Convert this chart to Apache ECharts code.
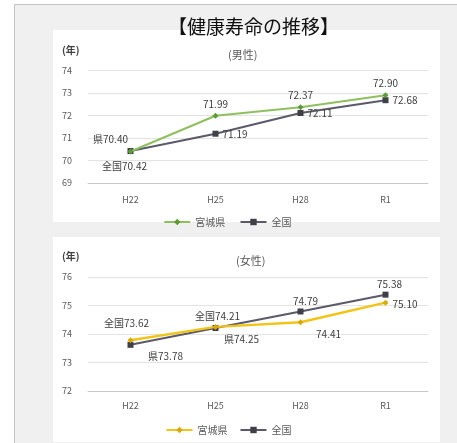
<!DOCTYPE html>
<html><head><meta charset="utf-8">
<script src="https://cdn.jsdelivr.net/npm/echarts@6/dist/echarts.min.js"></script>
<style>html,body{margin:0;padding:0;background:#fff}#c{width:457px;height:443px}</style>
</head><body><div id="c"></div>
<script>
var categories = ['H22', 'H25', 'H28', 'R1'];
var seriesNames = ['宮城県', '全国'];
var maleMiyagi = [70.40, 71.99, 72.37, 72.90];
var maleNational = [70.42, 71.19, 72.11, 72.68];
var femaleMiyagi = [73.78, 74.25, 74.41, 75.10];
var femaleNational = [73.62, 74.21, 74.79, 75.38];
var malePrefixMiyagi = ['県', '', '', ''];
var malePrefixNational = ['全国', '', '', ''];
var femalePrefixMiyagi = ['県', '県', '', ''];
var femalePrefixNational = ['全国', '全国', '', ''];

var FONT = '"Noto Sans CJK JP", "Noto Sans", sans-serif';
var labelLayout = {
  mM: [['top', [-20, 0]], ['top', [0, 0]], ['top', [0, 0]], ['top', [0, 0]]],
  mN: [['bottom', [-6, 3]], ['right', [0, 0]], ['right', [0, 0]], ['right', [0, 0]]],
  fM: [['bottom', [35, 4]], ['bottom', [26, 0]], ['bottom', [28, 0]], ['right', [0, 2]]],
  fN: [['top', [-4, -10]], ['top', [2, 0]], ['top', [5, 2]], ['top', [4, 2]]]
};
function build(vals, prefix, layout) {
  return vals.map(function (v, i) {
    return {
      value: v,
      label: {
        position: layout[i][0], offset: layout[i][1],
        formatter: prefix[i] + v.toFixed(2)
      }
    };
  });
}
var chart = echarts.init(document.getElementById('c'), null, {renderer: 'canvas'});
var axisLabel = {color: '#595959', fontSize: 9, fontFamily: FONT};
var lblBase = {show: true, color: '#404040', fontSize: 10, fontFamily: FONT, distance: 4};
function yAxis(gi, min, max) {
  return {type: 'value', gridIndex: gi, min: min, max: max, interval: 1,
    axisLine: {show: false}, axisTick: {show: false},
    axisLabel: Object.assign({margin: 16}, axisLabel),
    splitLine: {lineStyle: {color: '#e3e3e3', width: 1}}};
}
function xAxis(gi, margin) {
  return {type: 'category', gridIndex: gi, data: categories, boundaryGap: true,
    axisLine: {lineStyle: {color: '#c8c8c8'}}, axisTick: {show: false},
    axisLabel: Object.assign({margin: margin}, axisLabel)};
}
chart.setOption({
  animation: false,
  backgroundColor: '#ffffff',
  graphic: [
    {type: 'rect', shape: {x: 14.5, y: 4.5, width: 460, height: 460}, style: {fill: '#f0f0f0', stroke: '#c4c4c4', lineWidth: 1}, z: -10},
    {type: 'rect', shape: {x: 53, y: 30, width: 387, height: 192}, style: {fill: '#ffffff'}, z: -9},
    {type: 'rect', shape: {x: 53, y: 237, width: 387, height: 205}, style: {fill: '#ffffff'}, z: -9},
    {type: 'text', left: 62, top: 45, style: {text: '(年)', fill: '#404040', font: 'bold 10px ' + FONT}},
    {type: 'text', left: 62, top: 251, style: {text: '(年)', fill: '#404040', font: 'bold 10px ' + FONT}},
    {type: 'text', left: 168, top: 17, style: {text: '【健康寿命の推移】', fill: '#111', font: '19px ' + FONT}}
  ],
  title: [
    {text: '(男性)', left: 223, top: 44, textStyle: {fontSize: 11, fontWeight: 'normal', color: '#595959', fontFamily: FONT}},
    {text: '(女性)', left: 231, top: 250, textStyle: {fontSize: 11, fontWeight: 'normal', color: '#595959', fontFamily: FONT}}
  ],
  legend: [
    {top: 212, left: 'center', itemWidth: 26, itemHeight: 8, itemGap: 12, textStyle: {fontSize: 10, color: '#595959', fontFamily: FONT},
      data: ['宮城県 ', '全国 ']},
    {top: 420, left: 'center', itemWidth: 26, itemHeight: 8, itemGap: 12, textStyle: {fontSize: 10, color: '#595959', fontFamily: FONT},
      data: ['宮城県', '全国']}
  ],
  grid: [
    {left: 88, top: 70.5, width: 340, height: 112.5},
    {left: 88, top: 277, width: 340, height: 114}
  ],
  xAxis: [xAxis(0, 12), xAxis(1, 10)],
  yAxis: [yAxis(0, 69, 74), yAxis(1, 72, 76)],
  series: [
    {name: seriesNames[0] + ' ', type: 'line', xAxisIndex: 0, yAxisIndex: 0, symbol: 'diamond', symbolSize: 6,
      lineStyle: {color: '#8fbf5f', width: 2}, itemStyle: {color: '#5f9a3a'}, label: lblBase,
      data: build(maleMiyagi, malePrefixMiyagi, labelLayout.mM), z: 3},
    {name: seriesNames[1] + ' ', type: 'line', xAxisIndex: 0, yAxisIndex: 0, symbol: 'rect', symbolSize: 6,
      lineStyle: {color: '#5a5a6a', width: 2}, itemStyle: {color: '#3f3f48'}, label: lblBase,
      data: build(maleNational, malePrefixNational, labelLayout.mN), z: 2},
    {name: seriesNames[0], type: 'line', xAxisIndex: 1, yAxisIndex: 1, symbol: 'diamond', symbolSize: 6,
      lineStyle: {color: '#f2c418', width: 2.5}, itemStyle: {color: '#d9a80a'}, label: lblBase,
      data: build(femaleMiyagi, femalePrefixMiyagi, labelLayout.fM), z: 3},
    {name: seriesNames[1], type: 'line', xAxisIndex: 1, yAxisIndex: 1, symbol: 'rect', symbolSize: 6,
      lineStyle: {color: '#5a5a6a', width: 2}, itemStyle: {color: '#3f3f48'}, label: lblBase,
      data: build(femaleNational, femalePrefixNational, labelLayout.fN), z: 2}
  ]
});
</script></body></html>
